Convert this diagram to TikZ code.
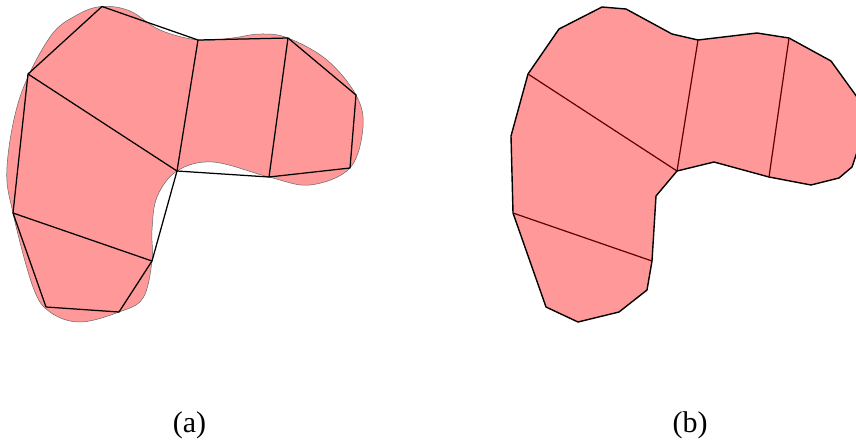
\documentclass[tikz,border=0pt]{standalone}
\usepackage{xcolor}
\usepackage{fontspec}
\setmainfont{Liberation Serif}
\definecolor{meshFill}{HTML}{ff9999}
\definecolor{meshLine}{HTML}{5c0000}
\begin{document}
\begin{tikzpicture}[
  x=1pt, y=-1pt,
  blob/.style={draw=black!60, line width=0.5pt, fill=meshFill},
  edge/.style={draw=black, line width=1.25pt, line join=round},
  shell/.style={draw=black, line width=1.4pt, line join=round, fill=meshFill},
  inner/.style={draw=meshLine, line width=1.2pt},
  caption/.style={font=\fontsize{30}{34}\selectfont}
]
\useasboundingbox (0,0) rectangle (856,445);

\coordinate (a1) at (102,6.5);
\coordinate (a2) at (198,40);
\coordinate (a3) at (288,38);
\coordinate (a4) at (356,95);
\coordinate (a5) at (350,168);
\coordinate (a6) at (269,177);
\coordinate (a7) at (177,171);
\coordinate (a8) at (28,74);
\coordinate (a9) at (13,213);
\coordinate (a10) at (152,261);
\coordinate (a11) at (119,312);
\coordinate (a12) at (46,307);

\draw[blob] plot[smooth cycle, tension=0.6] coordinates {
  (102,6.5) (130,11) (160,30) (198,40) (232,38) (260,34) (288,38) (327,60)
  (356,95) (363,127) (350,168) (310,185) (269,177) (213,162) (177,171) (157,197)
  (152,230) (152,261) (143,298) (119,312) (80,322) (50,312) (33,287) (13,213)
  (7,167) (20,97) (50,37) (77,15)};

\draw[edge] (a1) -- (a2) -- (a3) -- (a4) -- (a5) -- (a6) -- (a7) -- (a10) -- (a11) -- (a12) -- (a9) -- (a8) -- cycle;
\draw[edge] (a8) -- (a7);
\draw[edge] (a9) -- (a10);
\draw[edge] (a2) -- (a7);
\draw[edge] (a3) -- (a6);

\coordinate (b1) at (528,74);
\coordinate (b2) at (677,171);
\coordinate (b3) at (513,213);
\coordinate (b4) at (652,261);
\coordinate (b5) at (698,40);
\coordinate (b6) at (789,38);
\coordinate (b7) at (769,177);

\draw[shell] (602,7) -- (626,9) -- (672,34) -- (b5) -- (757,33) -- (b6) -- (831,61)
  -- (857,97) -- (857,152) -- (852,167) -- (839,178) -- (811,185) -- (b7) -- (714,162)
  -- (b2) -- (656,196) -- (b4) -- (647,290) -- (619,312) -- (578,322) -- (546,307)
  -- (b3) -- (511,136) -- (b1) -- (559,29) -- cycle;
\draw[inner] (b1) -- (b2);
\draw[inner] (b3) -- (b4);
\draw[inner] (b5) -- (b2);
\draw[inner] (b6) -- (b7);

\node[caption] (capa) at (189.5,425) {(a)};
\node[caption] (capb) at (690,425) {(b)};
\end{tikzpicture}
\end{document}
